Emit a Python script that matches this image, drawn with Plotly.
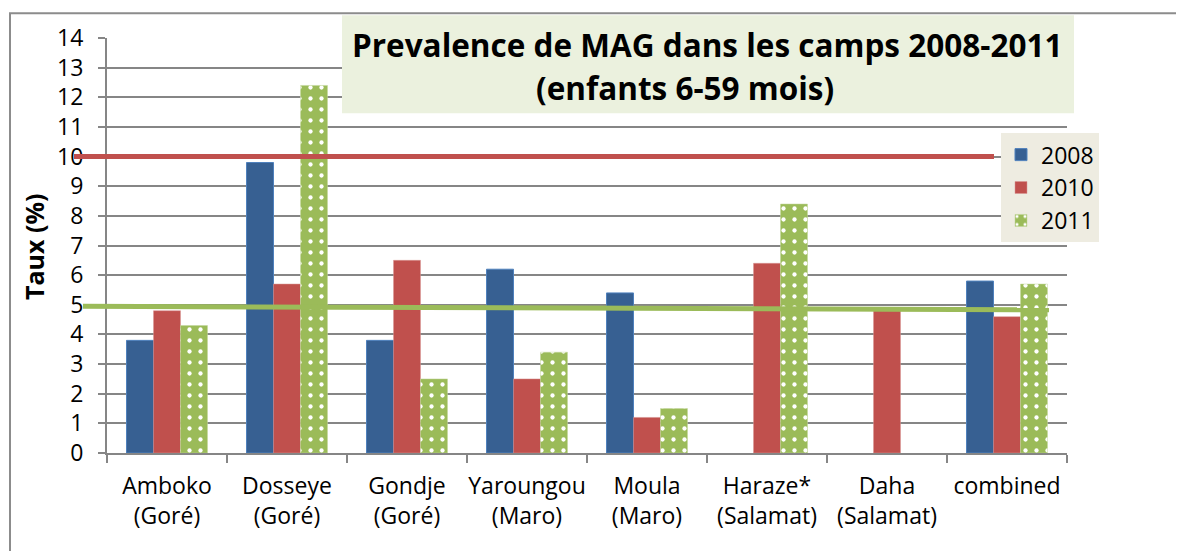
import plotly.graph_objects as go

categories = ["Amboko<br>(Goré)", "Dosseye<br>(Goré)", "Gondje<br>(Goré)", "Yaroungou<br>(Maro)",
              "Moula<br>(Maro)", "Haraze*<br>(Salamat)", "Daha<br>(Salamat)", "combined"]
v2008 = [3.8, 9.8, 3.8, 6.2, 5.4, None, None, 5.8]
v2010 = [4.8, 5.7, 6.5, 2.5, 1.2, 6.4, 4.8, 4.6]
v2011 = [4.3, 12.4, 2.5, 3.4, 1.5, 8.4, None, 5.7]
y_ticks = list(range(0, 15))
red_line = [10, 10]
green_line = [4.95, 4.83]

OFF = 8  # page body margin
W, H = 1184 - OFF, 551 - OFF
L, R, T, B = 107 - OFF, 1067 - OFF, 37.7 - OFF, 453.3 - OFF

def px(x):
    return (x - OFF - L) / (R - L)

def py(y):
    return (B - (y - OFF)) / (B - T)

FONT = "Open Sans"

fig = go.Figure()
fig.add_trace(go.Bar(name="2008", x=categories, y=v2008,
                     marker=dict(color="#376092", line=dict(color="#4F81BD", width=1))))
fig.add_trace(go.Bar(name="2010", x=categories, y=v2010,
                     marker=dict(color="#C0504D", line=dict(color="#D99694", width=0.5))))
fig.add_trace(go.Bar(name="2011", x=categories, y=v2011,
                     marker=dict(color="#9BBB59", line=dict(color="#C3D69B", width=0.5),
                                 pattern=dict(shape=".", fgcolor="white", bgcolor="#9BBB59",
                                              size=11, solidity=0.12, fillmode="replace"))))

shapes = []
# outer frame (left and top edges)
shapes.append(dict(type="path", xref="paper", yref="paper",
                   path=f"M {px(10)} {py(560)} L {px(10)} {py(13)} L {px(1200)} {py(13)}",
                   line=dict(color="#8C8C8C", width=2), layer="above"))
# title box
shapes.append(dict(type="rect", xref="paper", yref="paper",
                   x0=px(342), x1=px(1074), y0=py(113), y1=py(15),
                   fillcolor="#EBF1DE", line=dict(width=0), layer="above"))
# reference lines
shapes.append(dict(type="line", xref="paper", yref="y", x0=px(74), x1=px(994),
                   y0=red_line[0], y1=red_line[1], line=dict(color="#C0504D", width=5), layer="above"))
shapes.append(dict(type="line", xref="paper", yref="y", x0=px(83), x1=px(1049),
                   y0=green_line[0], y1=green_line[1], line=dict(color="#9BBB59", width=5), layer="above"))

annotations = [
    dict(text="<b>Prevalence de MAG dans les camps 2008-2011</b>", xref="paper", yref="paper",
         x=px(707), y=py(44), xanchor="center", yanchor="middle", showarrow=False,
         font=dict(family=FONT, size=31.5, color="black")),
    dict(text="<b>(enfants 6-59 mois)</b>", xref="paper", yref="paper",
         x=px(685), y=py(87), xanchor="center", yanchor="middle", showarrow=False,
         font=dict(family=FONT, size=31.5, color="black")),
    dict(text="<b>Taux (%)</b>", xref="paper", yref="paper", textangle=-90,
         x=px(34), y=py(247), xanchor="center", yanchor="middle", showarrow=False,
         font=dict(family=FONT, size=25, color="black")),
]

fig.update_layout(
    width=W, height=H,
    margin=dict(l=L, r=W - R, t=T, b=H - B, autoexpand=False),
    paper_bgcolor="white", plot_bgcolor="white",
    barmode="group", bargap=0.325, bargroupgap=0,
    font=dict(family=FONT, size=23, color="black"),
    shapes=shapes, annotations=annotations,
    legend=dict(x=px(1001), y=py(133), xanchor="left", yanchor="top",
                bgcolor="#EEECE1", font=dict(family=FONT, size=23, color="black"),
                borderwidth=0, tracegroupgap=0, itemwidth=30),
    showlegend=True,
)
fig.update_xaxes(showline=True, linecolor="#868686", linewidth=2, ticks="outside",
                 tickson="boundaries", ticklen=8, tickcolor="#868686", tickwidth=2,
                 ticklabelstandoff=11,
                 tickangle=0, showgrid=False, tickfont=dict(family=FONT, size=23, color="black"))
fig.update_yaxes(range=[0, 14], tickvals=y_ticks, showline=True, linecolor="#868686", linewidth=2,
                 ticks="outside", ticklen=7, tickcolor="#868686", tickwidth=2,
                 ticklabelstandoff=10,
                 showgrid=True, gridcolor="#868686", gridwidth=2, zeroline=False,
                 tickfont=dict(family=FONT, size=23, color="black"))

fig.write_html("out.html")
